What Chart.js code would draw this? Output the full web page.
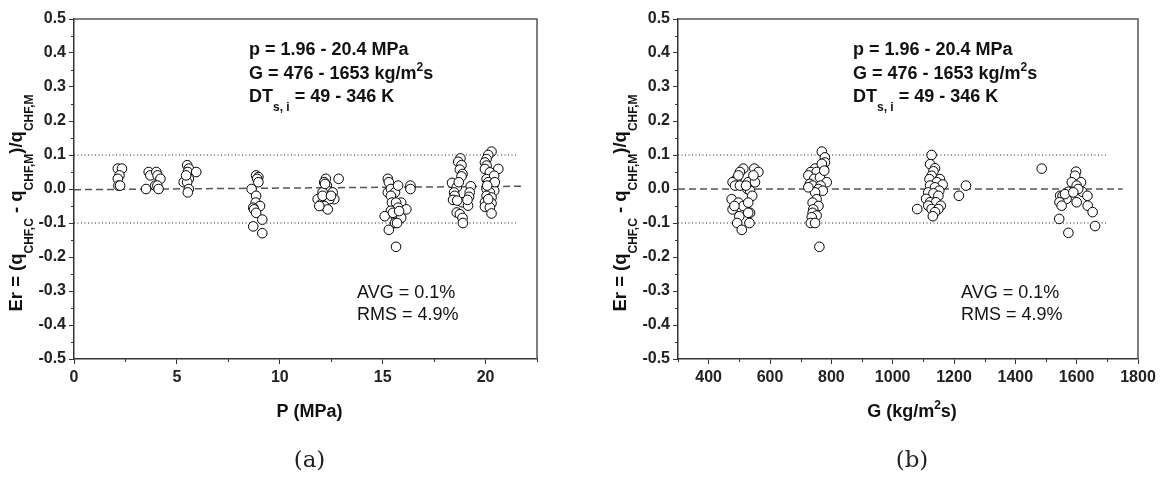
<!DOCTYPE html>
<html>
<head>
<meta charset="utf-8">
<script src="https://cdn.jsdelivr.net/npm/chart.js@4.4.0/dist/chart.umd.min.js"></script>
<style>
  html, body { margin: 0; padding: 0; background: #fff; }
  #wrap { position: relative; width: 1164px; height: 477px; }
  canvas { position: absolute; top: 0; }
</style>
</head>
<body>
<div id="wrap">
  <canvas id="chartP" width="582" height="477" style="left:0"></canvas>
  <canvas id="chartG" width="582" height="477" style="left:582px"></canvas>
</div>
<script>
// (a) error vs pressure
const pressureMPa = [
  2.13, 2.33, 2.21, 2.13, 2.16, 2.24,
  3.5, 3.63, 3.71, 4.0, 4.06, 4.2, 3.95, 4.05, 4.11,
  5.5, 5.58, 5.53, 5.94, 5.58, 5.33, 5.5, 5.58, 5.53, 5.45,
  8.85, 8.96, 8.9, 8.96, 8.63, 8.85, 8.83, 9.04, 8.71, 8.75, 8.85, 9.15, 8.71, 9.15,
  12.86, 12.24, 12.16, 12.29, 12.24, 12.57, 12.08, 11.84, 12.65, 12.41, 12.0, 12.16, 12.33, 11.92, 12.08, 12.49, 12.2,
  15.25, 15.3, 15.25, 15.4, 15.6, 15.75, 16.35, 16.35, 15.4, 15.45, 15.9, 15.65, 15.75, 16.15, 15.4, 15.1, 15.65, 15.9, 15.6, 15.7, 15.3, 15.65, 15.5, 15.8,
  18.78, 18.67, 18.83, 18.75, 18.88, 18.83, 18.37, 18.6, 18.47, 18.5, 18.42, 19.28, 19.23, 19.2, 18.86, 19.15, 18.6, 18.75, 18.88, 18.9, 18.62, 19.12, 18.7,
  20.29, 20.13, 20.05, 19.97, 20.05, 19.97, 20.62, 20.21, 20.05, 20.42, 20.13, 20.37, 20.29, 20.05, 20.42, 20.21, 20.05, 20.29, 19.97, 20.29, 19.97, 20.21, 20.29, 20.45, 20.08, 20.13
];
const errorVsP = [
  0.06, 0.06, 0.04, 0.03, 0.01, 0.01,
  0.0, 0.05, 0.04, 0.05, 0.04, 0.03, 0.01, 0.01, 0.0,
  0.07, 0.06, 0.05, 0.05, 0.03, 0.02, 0.02, 0.0, -0.01, 0.04,
  0.04, 0.035, 0.03, 0.02, 0.0, -0.02, -0.04, -0.05, -0.055, -0.06, -0.07, -0.09, -0.11, -0.13,
  0.03, 0.03, 0.02, 0.01, 0.0, -0.01, -0.01, -0.03, -0.03, -0.03, -0.045, -0.05, -0.06, -0.05, -0.02, -0.02, 0.015,
  0.03, 0.02, -0.01, 0.0, -0.01, 0.01, 0.01, 0.0, -0.02, -0.04, -0.04, -0.04, -0.055, -0.06, -0.064, -0.08, -0.085, -0.085, -0.1, -0.1, -0.12, -0.17, -0.07, -0.065,
  0.09, 0.08, 0.07, 0.057, 0.044, 0.037, 0.018, 0.005, -0.01, -0.02, -0.032, 0.008, -0.01, -0.023, -0.039, -0.049, -0.069, -0.074, -0.085, -0.1, -0.034, -0.032, 0.02,
  0.11, 0.1, 0.088, 0.078, 0.069, 0.059, 0.059, 0.049, 0.029, 0.039, 0.02, 0.015, 0.005, 0.0, -0.005, -0.01, -0.02, -0.025, -0.039, -0.042, -0.052, -0.054, -0.072, 0.02, 0.01, -0.03
];

// (b) error vs mass flux
const massFluxG = [
  513, 502, 491, 478, 486, 502, 529, 551, 549, 562, 546, 526, 535, 542, 475, 497, 513, 529, 478, 500, 535, 529, 493, 533, 508, 497, 484, 522,
  769, 779, 779, 774, 747, 733, 752, 725, 744, 763, 785, 730, 739, 765, 758, 772, 747, 752, 739, 758, 741, 739, 752, 736, 733, 747, 761, 769, 777, 725,
  1127, 1122, 1138, 1133, 1127, 1120, 1154, 1144, 1163, 1122, 1138, 1152, 1116, 1133, 1149, 1109, 1122, 1141, 1157, 1116, 1127, 1149, 1080, 1138, 1131, 1216, 1239,
  1486, 1598, 1595, 1584, 1614, 1600, 1573, 1618, 1546, 1554, 1567, 1635, 1600, 1544, 1551, 1636, 1652, 1543, 1660, 1573, 1605, 1562, 1589
];
const errorVsG = [
  0.06, 0.05, 0.03, 0.02, 0.01, 0.01, 0.02, 0.02, 0.06, 0.05, 0.04, 0.0, -0.005, -0.02, -0.03, -0.04, -0.05, -0.04, -0.06, -0.08, -0.07, -0.07, -0.1, -0.1, -0.12, 0.04, -0.05, 0.01,
  0.11, 0.093, 0.078, 0.06, 0.06, 0.05, 0.05, 0.04, 0.03, 0.034, 0.02, 0.015, 0.01, 0.01, 0.0, -0.005, -0.01, -0.03, -0.04, -0.05, -0.06, -0.07, -0.078, -0.083, -0.1, -0.1, -0.17, 0.074, 0.054, 0.005,
  0.1, 0.073, 0.061, 0.052, 0.039, 0.029, 0.029, 0.02, 0.013, 0.01, 0.005, -0.005, -0.01, -0.013, -0.02, -0.029, -0.039, -0.039, -0.049, -0.049, -0.059, -0.059, -0.059, -0.068, -0.08, -0.02, 0.01,
  0.06, 0.051, 0.039, 0.02, 0.02, 0.01, -0.008, -0.008, -0.02, -0.02, -0.029, -0.02, -0.039, -0.039, -0.049, -0.049, -0.068, -0.088, -0.109, -0.129, 0.0, -0.015, -0.01
];

// +-10% bands and mean lines
const limitLevels = [0.1, -0.1];
const pLimitX = [0, 21.5];
const pTrendX = [0, 21.75];
const pTrendY = [-0.002, 0.008];
const gLimitX = [300, 1700];
const gTrendX = [300, 1750];
const gTrendY = [0, 0];

// axis ticks
const yTicks = [-0.5, -0.4, -0.3, -0.2, -0.1, 0.0, 0.1, 0.2, 0.3, 0.4, 0.5];
const yMinor = [-0.45, -0.35, -0.25, -0.15, -0.05, 0.05, 0.15, 0.25, 0.35, 0.45];
const pTicks = [0, 5, 10, 15, 20];
const pMinor = [2.5, 7.5, 12.5, 17.5, 22.5];
const gTicks = [400, 600, 800, 1000, 1200, 1400, 1600, 1800];
const gMinor = [300, 500, 700, 900, 1100, 1300, 1500, 1700];

const SANS = "'Liberation Sans', Arial, sans-serif";
const AXIS = "#333";

// text pieces: [text, 0 normal | 1 subscript | 2 superscript]
const yTitle = [["Er = (q", 0], ["CHF,C", 1], [" - q", 0], ["CHF,M", 1], [")/q", 0], ["CHF,M", 1]];
const infoLines = [
  [["p = 1.96 - 20.4 MPa", 0]],
  [["G = 476 - 1653 kg/m", 0], ["2", 2], ["s", 0]],
  [["DT", 0], ["s, i", 1], [" = 49 - 346 K", 0]]
];

function drawRich(ctx, parts, x, y, size, weight, align, subShift) {
  const small = Math.round(size * 0.64);
  const fontOf = k => weight + " " + (k ? small : size) + "px " + SANS;
  let w = 0;
  parts.forEach(p => { ctx.font = fontOf(p[1]); w += ctx.measureText(p[0]).width; });
  let cx = align === "center" ? x - w / 2 : x;
  ctx.textAlign = "left";
  ctx.textBaseline = "alphabetic";
  parts.forEach(p => {
    ctx.font = fontOf(p[1]);
    let dy = 0;
    if (p[1] === 1) dy = size * subShift;
    if (p[1] === 2) dy = -size * 0.42;
    ctx.fillText(p[0], cx, y + dy);
    cx += ctx.measureText(p[0]).width;
  });
}

function makeChart(id, o) {
  const pts = o.xs.map((x, i) => ({ x: x, y: o.ys[i] }));
  const lineSet = (xs, ys, dash, color, width) => ({
    type: "line",
    data: xs.map((x, i) => ({ x: x, y: ys[i] })),
    borderColor: color,
    borderWidth: width,
    borderDash: dash,
    pointRadius: 0,
    fill: false,
    order: 2
  });

  const decor = {
    id: "decor" + id,
    afterDraw(chart) {
      const ctx = chart.ctx;
      const a = chart.chartArea;
      const xs = chart.scales.x, ys = chart.scales.y;
      ctx.save();
      // frame top and right
      ctx.strokeStyle = "#555";
      ctx.lineWidth = 1.5;
      ctx.beginPath();
      ctx.moveTo(a.left, a.top); ctx.lineTo(a.right, a.top); ctx.lineTo(a.right, a.bottom);
      ctx.stroke();
      // minor ticks
      ctx.strokeStyle = AXIS;
      ctx.lineWidth = 1;
      ctx.beginPath();
      o.xMinor.forEach(v => {
        const px = Math.round(xs.getPixelForValue(v)) + 0.5;
        ctx.moveTo(px, a.bottom); ctx.lineTo(px, a.bottom + 3);
      });
      yMinor.forEach(v => {
        const py = Math.round(ys.getPixelForValue(v)) + 0.5;
        ctx.moveTo(a.left - 3, py); ctx.lineTo(a.left, py);
      });
      ctx.stroke();

      ctx.fillStyle = "#111";
      // y title
      ctx.save();
      ctx.translate(a.left - 52, (a.top + a.bottom) / 2 + 14);
      ctx.rotate(-Math.PI / 2);
      drawRich(ctx, yTitle, 0, 0, 18.5, "bold", "center", 0.62);
      ctx.restore();
      // x title
      drawRich(ctx, o.xTitle, (a.left + a.right) / 2 + 4, 417, 18, "bold", "center", 0.5);
      // info block
      infoLines.forEach((ln, i) => {
        drawRich(ctx, ln, a.left + 175, 55 + i * 23.5, 18, "bold", "left", 0.5);
      });
      // stats
      ctx.font = "18px " + SANS;
      ctx.textAlign = "left";
      ctx.fillText("AVG = 0.1%", a.left + 283, 298);
      ctx.fillText("RMS = 4.9%", a.left + 283, 320);
      // caption
      ctx.font = "23px 'DejaVu Serif', serif";
      ctx.textAlign = "center";
      ctx.fillStyle = "#222";
      ctx.fillText(o.caption, (a.left + a.right) / 2 + 4, 467);
      ctx.restore();
    }
  };

  return new Chart(document.getElementById(id), {
    type: "scatter",
    data: {
      datasets: [
        {
          data: pts,
          pointRadius: 4.8,
          pointBorderWidth: 1,
          pointBorderColor: "#000",
          pointBackgroundColor: "#fff",
          order: 1
        },
        lineSet(o.limitX, [limitLevels[0], limitLevels[0]], [1, 2.5], "#222", 1),
        lineSet(o.limitX, [limitLevels[1], limitLevels[1]], [1, 2.5], "#222", 1),
        lineSet(o.trendX, o.trendY, [7, 4], "#555", 1.5)
      ]
    },
    options: {
      responsive: false,
      animation: false,
      layout: { padding: { left: 0, top: 19, right: o.rightPad, bottom: 0 } },
      plugins: { legend: { display: false }, tooltip: { enabled: false } },
      scales: {
        x: {
          type: "linear",
          min: o.xMin,
          max: o.xMax,
          afterBuildTicks: s => { s.ticks = o.xTicks.map(v => ({ value: v })); },
          afterFit: s => { s.height = 118; },
          ticks: {
            font: { family: SANS, size: 16, weight: "bold" },
            color: "#222",
            padding: 4,
            maxRotation: 0,
            callback: v => String(v)
          },
          grid: { drawOnChartArea: false, tickLength: 5, color: AXIS, tickWidth: 1 },
          border: { color: AXIS, width: 1.5 }
        },
        y: {
          type: "linear",
          min: -0.5,
          max: 0.5,
          afterBuildTicks: s => { s.ticks = yTicks.map(v => ({ value: v })); },
          afterFit: s => { s.width = o.yWidth; },
          ticks: {
            font: { family: SANS, size: 16, weight: "bold" },
            color: "#222",
            padding: 3,
            callback: v => Number(v).toFixed(1)
          },
          grid: { drawOnChartArea: false, tickLength: 5, color: AXIS, tickWidth: 1 },
          border: { color: AXIS, width: 1.5 }
        }
      }
    },
    plugins: [decor]
  });
}

makeChart("chartP", {
  xs: pressureMPa, ys: errorVsP,
  limitX: pLimitX, trendX: pTrendX, trendY: pTrendY,
  xMin: 0, xMax: 22.5, xTicks: pTicks, xMinor: pMinor,
  yWidth: 74, rightPad: 45,
  xTitle: [["P (MPa)", 0]],
  caption: "(a)"
});

makeChart("chartG", {
  xs: massFluxG, ys: errorVsG,
  limitX: gLimitX, trendX: gTrendX, trendY: gTrendY,
  xMin: 300, xMax: 1800, xTicks: gTicks, xMinor: gMinor,
  yWidth: 96, rightPad: 26,
  xTitle: [["G (kg/m", 0], ["2", 2], ["s)", 0]],
  caption: "(b)"
});
</script>
</body>
</html>
